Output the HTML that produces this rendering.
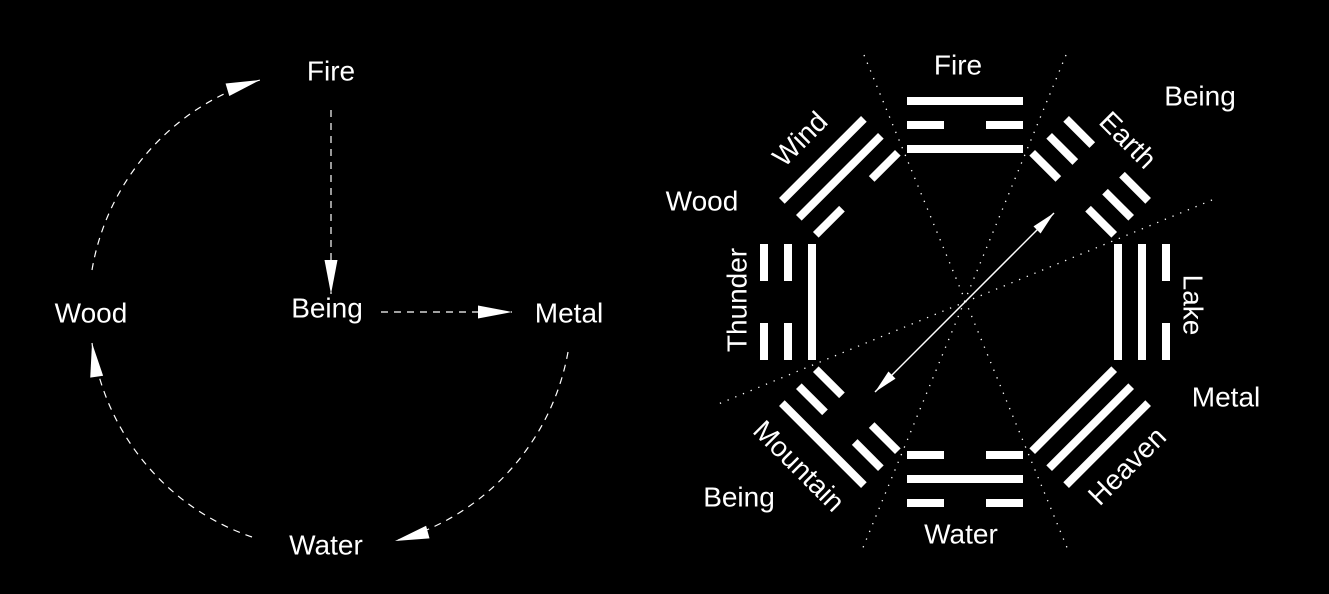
<!DOCTYPE html>
<html><head><meta charset="utf-8"><style>
html,body{margin:0;padding:0;background:#000;}
svg{display:block;}
text{font-family:"Liberation Sans",sans-serif;font-size:28px;fill:#fff;text-anchor:middle;dominant-baseline:central;}
</style></head><body>
<svg width="1329" height="594" viewBox="0 0 1329 594" xmlns="http://www.w3.org/2000/svg">
<defs>
<marker id="ah" markerUnits="userSpaceOnUse" markerWidth="36" markerHeight="14" viewBox="-35 -7 36 14" refX="0" refY="0" orient="auto">
<path d="M0 0 L-34 -6.5 L-34 6.5 Z" fill="#fff"/>
</marker>
<marker id="ah2" markerUnits="userSpaceOnUse" markerWidth="26" markerHeight="12" viewBox="-25 -6 26 12" refX="0" refY="0" orient="auto-start-reverse">
<path d="M0 0 L-24 -5 L-24 5 Z" fill="#fff"/>
</marker>
<g id="full"><rect x="907" y="-4" width="116" height="8" fill="#fff"/></g>
<g id="brk"><rect x="907" y="-4" width="37" height="8" fill="#fff"/><rect x="986" y="-4" width="37" height="8" fill="#fff"/></g>
</defs>
<rect width="1329" height="594" fill="#000"/>

<!-- LEFT DIAGRAM -->
<g stroke="#fff" stroke-width="1.2" fill="none" stroke-dasharray="7 6">
<path d="M331 110 L331 294" marker-end="url(#ah)"/>
<path d="M381 312 L512 312" marker-end="url(#ah)"/>
<path d="M92 270 A240 240 0 0 1 260 80" marker-end="url(#ah)"/>
<path d="M568 352 A240 240 0 0 1 395 541" marker-end="url(#ah)"/>
<path d="M252 537 A240 240 0 0 1 92 343" marker-end="url(#ah)"/>
</g>
<text x="331" y="71">Fire</text>
<text x="327" y="308">Being</text>
<text x="569" y="313">Metal</text>
<text x="91" y="313">Wood</text>
<text x="326" y="545">Water</text>

<!-- RIGHT DIAGRAM: dotted lines -->
<g stroke="#fff" stroke-width="1.3" stroke-dasharray="1.3 7" fill="none">
<line x1="864" y1="55" x2="1068" y2="550"/>
<line x1="1066" y1="55" x2="862" y2="550"/>
<line x1="1212" y1="200" x2="716" y2="405"/>
</g>

<!-- trigrams: outer(101), mid(125), inner(149) -->
<!-- Fire 0 -->
<g transform="rotate(0 965 302)">
<use href="#full" y="101"/><use href="#brk" y="125"/><use href="#full" y="149"/></g>
<!-- Earth 45 -->
<g transform="rotate(45 965 302)">
<use href="#brk" y="101"/><use href="#brk" y="125"/><use href="#brk" y="149"/></g>
<!-- Lake 90 -->
<g transform="rotate(90 965 302)">
<use href="#brk" y="101"/><use href="#full" y="125"/><use href="#full" y="149"/></g>
<!-- Heaven 135 -->
<g transform="rotate(135 965 302)">
<use href="#full" y="101"/><use href="#full" y="125"/><use href="#full" y="149"/></g>
<!-- Water 180 -->
<g transform="rotate(180 965 302)">
<use href="#brk" y="101"/><use href="#full" y="125"/><use href="#brk" y="149"/></g>
<!-- Mountain 225 -->
<g transform="rotate(225 965 302)">
<use href="#full" y="101"/><use href="#brk" y="125"/><use href="#brk" y="149"/></g>
<!-- Thunder 270 -->
<g transform="rotate(270 965 302)">
<use href="#brk" y="101"/><use href="#brk" y="125"/><use href="#full" y="149"/></g>
<!-- Wind 315 -->
<g transform="rotate(315 965 302)">
<use href="#full" y="101"/><use href="#full" y="125"/><use href="#brk" y="149"/></g>

<line x1="875" y1="392" x2="1054" y2="213" stroke="#fff" stroke-width="1.5" marker-start="url(#ah2)" marker-end="url(#ah2)"/>

<text x="958" y="65">Fire</text>
<text x="1200" y="96">Being</text>
<text x="1128" y="140" transform="rotate(45 1128 140)">Earth</text>
<text x="1193" y="305" transform="rotate(90 1193 305)">Lake</text>
<text x="1226" y="397">Metal</text>
<text x="1127" y="466" transform="rotate(-45 1127 466)">Heaven</text>
<text x="961" y="534">Water</text>
<text x="799" y="466" transform="rotate(45 799 466)">Mountain</text>
<text x="739" y="497">Being</text>
<text x="737" y="300" transform="rotate(-90 737 300)">Thunder</text>
<text x="702" y="201">Wood</text>
<text x="800" y="139" transform="rotate(-45 800 139)">Wind</text>
</svg>
</body></html>
